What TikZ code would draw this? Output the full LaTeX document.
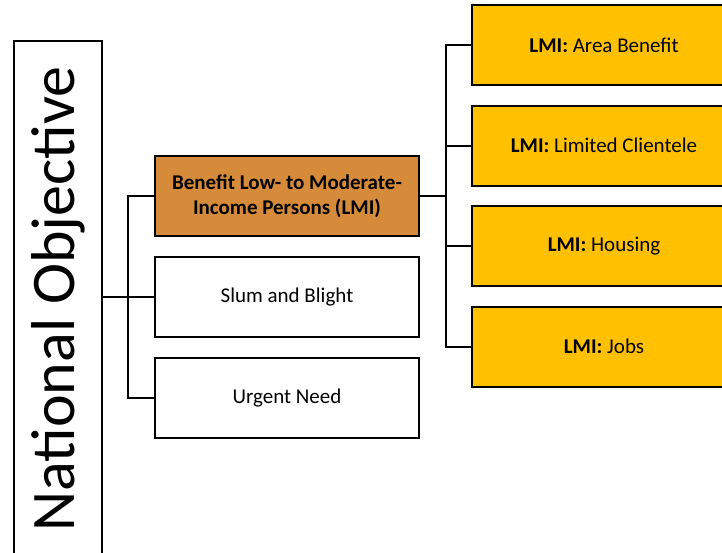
\documentclass[tikz,border=0pt]{standalone}
\usepackage{fontspec}
\setmainfont{Carlito}
\usetikzlibrary{positioning}
\definecolor{lmiorange}{HTML}{D68B3B}
\definecolor{lmigold}{HTML}{FFC000}

\begin{document}
\begin{tikzpicture}[%
  x=1pt,
  y=-1pt,
  line width=2pt,
  node distance=19pt,
  box/.style={
    draw,
    minimum width=264pt,
    minimum height=80pt,
    align=center,
    font=\fontsize{21}{25}\selectfont,},
  objbox/.style={
    box,
    fill=lmiorange,
    font=\fontsize{21}{25}\selectfont\bfseries,},
  typebox/.style={
    box,
    fill=lmigold,},
  ]
  \clip (0,0) rectangle (722,552);
  %% Nodes
  \node[draw, rotate=90, minimum width=516pt, minimum height=88pt,
    font=\fontsize{62}{70}\selectfont] (natobj) at (58,299) {National Objective};
  \node[objbox] (lmi) at (287,196) {Benefit Low- to Moderate-\\Income Persons (LMI)};
  \node[box, below = of lmi] (slum) {Slum and Blight};
  \node[box, below = of slum] (urgent) {Urgent Need};
  \node[typebox] (area) at (604,45) {\textbf{LMI:} Area Benefit};
  \node[typebox, below = 18.5pt of area] (clientele) {\textbf{LMI:} Limited Clientele};
  \node[typebox, below = 18.5pt of clientele] (housing) {\textbf{LMI:} Housing};
  \node[typebox, below = 18.5pt of housing] (jobs) {\textbf{LMI:} Jobs};
  %% Edges
  \draw (natobj.south |- slum.west) -- (slum.west);
  \draw (lmi.west) -- ++(-26,0) |- (urgent.west);
  \draw (lmi.east) -- ++(26,0) coordinate (rj);
  \draw (area.west) -- (area.west -| rj) |- (jobs.west);
  \draw (clientele.west) -- (clientele.west -| rj);
  \draw (housing.west) -- (housing.west -| rj);
\end{tikzpicture}
\end{document}
